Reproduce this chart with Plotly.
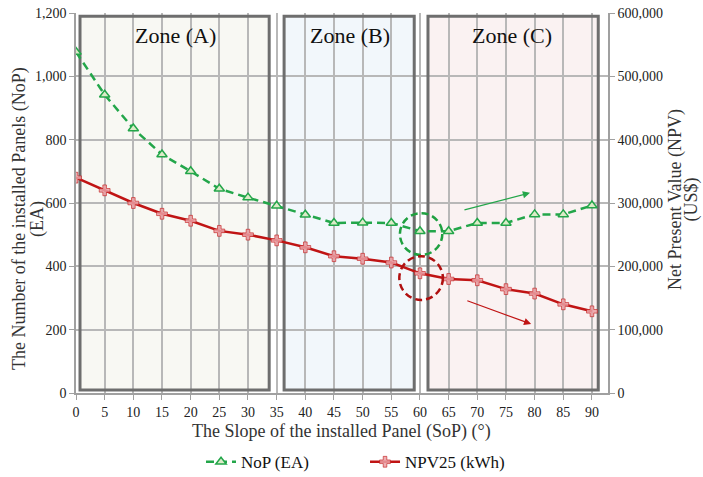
import plotly.graph_objects as go

slope = [0, 5, 10, 15, 20, 25, 30, 35, 40, 45, 50, 55, 60, 65, 70, 75, 80, 85, 90]
nop = [1077, 942, 835, 753, 700, 645, 617, 591, 563, 537, 538, 537, 511, 511, 537, 537, 564, 564, 592]
npv = [340000, 320000, 300000, 283000, 272000, 256000, 250000, 241000, 230000, 216000,
       212000, 206000, 189000, 180000, 178000, 164000, 157000, 140000, 129000]

zones = [("Zone (A)", 0.7, 33.7, "#f8f8f3", 17.3),
         ("Zone (B)", 36.3, 59.0, "#f2f7fb", 47.8),
         ("Zone (C)", 61.4, 91.1, "#faf2f2", 76.0)]

serif = "Liberation Serif, Times New Roman, serif"

fig = go.Figure()
fig.add_trace(go.Scatter(
    x=slope, y=nop, name="NoP (EA)", mode="lines+markers",
    line=dict(color="#23a64a", width=2.5, dash="8px,5px"),
    marker=dict(symbol="triangle-up", size=9, color="#dcebc8",
                line=dict(color="#23a64a", width=1.5)),
    yaxis="y"))
fig.add_trace(go.Scatter(
    x=slope, y=npv, name="NPV25 (kWh)", mode="lines+markers",
    line=dict(color="#c01414", width=2.5),
    marker=dict(symbol="cross", size=9, color="rgba(235,160,165,0.85)",
                line=dict(color="#c01414", width=0.6)),
    yaxis="y2"))

shapes = []
annotations = []
for label, x0, x1, fill, xc in zones:
    shapes.append(dict(type="rect", xref="x", yref="y", x0=x0, x1=x1, y0=9.5, y1=1190,
                       fillcolor=fill, line=dict(width=0), layer="below"))
    shapes.append(dict(type="rect", xref="x", yref="y", x0=x0, x1=x1, y0=9.5, y1=1190,
                       fillcolor="rgba(0,0,0,0)", line=dict(color="#6e6e6e", width=3),
                       layer="between"))
    annotations.append(dict(x=xc, y=1130, xref="x", yref="y", text=label, showarrow=False,
                            font=dict(family=serif, size=22, color="#111")))

# dashed circles
shapes.append(dict(type="circle", xref="x", yref="y", x0=56.5, x1=63.9, y0=436, y1=568,
                   line=dict(color="#1fa040", width=2.5, dash="7px,4px"), layer="above"))
shapes.append(dict(type="circle", xref="x", yref="y", x0=56.4, x1=64.0, y0=294, y1=432,
                   line=dict(color="#b01010", width=2.5, dash="7px,4px"), layer="above"))

# arrows
annotations.append(dict(x=79.2, y=632, ax=67.5, ay=577, xref="x", yref="y", axref="x", ayref="y",
                        showarrow=True, arrowhead=2, arrowsize=1.2, arrowwidth=1.2,
                        arrowcolor="#23a64a", text=""))
annotations.append(dict(x=79.4, y=218, ax=68, ay=293, xref="x", yref="y", axref="x", ayref="y",
                        showarrow=True, arrowhead=2, arrowsize=1.2, arrowwidth=1.2,
                        arrowcolor="#c01414", text=""))

# axis titles as annotations
titlefont = dict(family=serif, size=18, color="#333")
def title(text, x, y, angle):
    annotations.append(dict(text=text, x=x, y=y, xref="paper", yref="paper", showarrow=False,
                            xanchor="center", yanchor="middle", textangle=angle, font=titlefont))

title("The Number of the installed Panels (NoP)", -0.105, 0.458, -90)
title("(EA)", -0.0714, 0.458, -90)
title("Net Present Value (NPV)", 1.128, 0.508, -90)
title("(US$)", 1.157, 0.508, -90)
title("The Slope of the installed Panel (SoP) (°)", 0.499, -0.1026, 0)

tickfont = dict(family=serif, size=14, color="#222")

fig.update_layout(
    width=703, height=477,
    margin=dict(l=76, r=95, t=13, b=84),
    paper_bgcolor="white", plot_bgcolor="white",
    shapes=shapes, annotations=annotations,
    showlegend=True,
    legend=dict(orientation="h", x=0.235, xanchor="left", yref="container", y=0.031,
                yanchor="middle",
                font=dict(family=serif, size=17, color="#111"), itemwidth=30,
                tracegroupgap=0, entrywidthmode="pixels", entrywidth=119),
    xaxis=dict(range=[0, 92.8], tickvals=slope, showgrid=True, gridcolor="#b8b8b8", gridwidth=1.5,
               showline=True, linecolor="#a0a0a0", linewidth=1.5, ticks="outside", ticklen=5,
               tickcolor="#a0a0a0", tickfont=tickfont, zeroline=False, automargin=False),
    yaxis=dict(range=[0, 1200], dtick=200, tickformat=",", showgrid=True, gridcolor="#b8b8b8",
               gridwidth=1.5, showline=True, linecolor="#a0a0a0", linewidth=1.5, ticks="outside",
               ticklen=5, tickcolor="#a0a0a0", tickfont=tickfont, zeroline=False, automargin=False),
    yaxis2=dict(range=[0, 600000], dtick=100000, tickformat=",", overlaying="y", side="right",
                showgrid=False, showline=True, linecolor="#a0a0a0", linewidth=1.5, ticks="outside",
                ticklen=5, tickcolor="#a0a0a0", tickfont=tickfont, zeroline=False, automargin=False),
)

fig.write_html("out.html", config={"displayModeBar": False},
               post_script="document.body.style.margin='0';document.body.style.overflow='hidden';")
